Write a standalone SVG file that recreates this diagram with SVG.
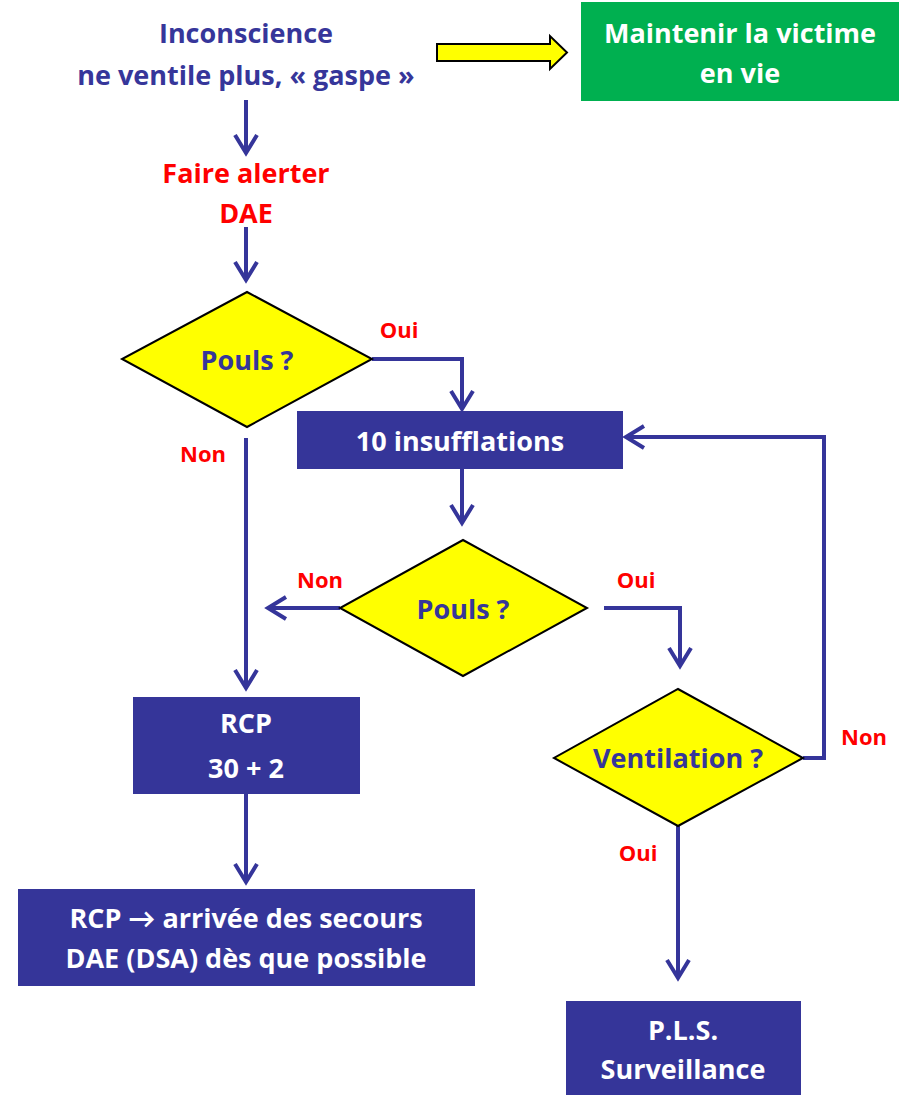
<svg xmlns="http://www.w3.org/2000/svg" width="905" height="1095" viewBox="0 0 905 1095">
  <style>
    text { font-family: "Open Sans", Lato, "Liberation Sans", sans-serif; font-weight: bold; text-anchor: middle; }
    .t-blue { fill: #36369a; font-size: 27px; }
    .t-red { fill: #ff0000; font-size: 27px; }
    .t-white { fill: #ffffff; font-size: 27px; }
    .lbl { fill: #ff0000; font-size: 22px; }
    .box { fill: #353599; }
    .dia { fill: #ffff00; stroke: #000000; stroke-width: 2; }
    .wire { fill: none; stroke: #35359a; stroke-width: 4; stroke-linejoin: miter; }
  </style>
  <defs>
    <marker id="chev" markerUnits="userSpaceOnUse" markerWidth="30" markerHeight="30" viewBox="-15 -15 30 30" refX="0" refY="0" orient="auto" overflow="visible">
      <path d="M-18,-11 L0,0 L-18,11" fill="none" stroke="#35359a" stroke-width="4" stroke-linejoin="miter"/>
    </marker>
  </defs>

  <rect width="905" height="1095" fill="#ffffff"/>

  <!-- connectors -->
  <g id="connectors">
    <path class="wire" d="M246,100 L246,153" marker-end="url(#chev)"/>
    <path class="wire" d="M246,227 L246,280" marker-end="url(#chev)"/>
    <path class="wire" d="M372,359 L462,359 L462,409" marker-end="url(#chev)"/>
    <path class="wire" d="M246,438 L246,688" marker-end="url(#chev)"/>
    <path class="wire" d="M462,469 L462,523" marker-end="url(#chev)"/>
    <path class="wire" d="M340,608 L268,608" marker-end="url(#chev)"/>
    <path class="wire" d="M604,608 L680,608 L680,666" marker-end="url(#chev)"/>
    <path class="wire" d="M803,758 L824,758 L824,437 L626,437" marker-end="url(#chev)"/>
    <path class="wire" d="M246,794 L246,882" marker-end="url(#chev)"/>
    <path class="wire" d="M678,826 L678,978" marker-end="url(#chev)"/>
    <!-- hollow block arrow towards the green box -->
    <path d="M437,44 L550,44 L550,36 L567,52.5 L550,69 L550,61 L437,61 Z" fill="#ffff00" stroke="#000000" stroke-width="2" stroke-linejoin="miter"/>
    <text class="lbl" x="399" y="338">Oui</text>
    <text class="lbl" x="203" y="462">Non</text>
    <text class="lbl" x="320" y="588">Non</text>
    <text class="lbl" x="636" y="588">Oui</text>
    <text class="lbl" x="864" y="745">Non</text>
    <text class="lbl" x="638" y="861">Oui</text>
  </g>

  <g id="start">
    <text class="t-blue" x="246" y="43">Inconscience</text>
    <text class="t-blue" x="246" y="85">ne ventile plus, « gaspe »</text>
  </g>

  <g id="keep-alive">
    <rect x="581" y="2" width="318" height="99" fill="#00b050"/>
    <text class="t-white" x="740" y="43">Maintenir la victime</text>
    <text class="t-white" x="740" y="83">en vie</text>
  </g>

  <g id="alert">
    <text class="t-red" x="246" y="183">Faire alerter</text>
    <text class="t-red" x="246" y="223">DAE</text>
  </g>

  <g id="pulse-1">
    <polygon class="dia" points="247,292 372,359 247,427 122,359"/>
    <text class="t-blue" x="247" y="370">Pouls ?</text>
  </g>

  <g id="insufflations">
    <rect class="box" x="297" y="411" width="326" height="58"/>
    <text class="t-white" x="460" y="451">10 insufflations</text>
  </g>

  <g id="pulse-2">
    <polygon class="dia" points="463,540 587,608 463,676 340,608"/>
    <text class="t-blue" x="463" y="619">Pouls ?</text>
  </g>

  <g id="ventilation">
    <polygon class="dia" points="678,689 803,758 678,826 554,758"/>
    <text class="t-blue" x="678" y="768">Ventilation ?</text>
  </g>

  <g id="rcp">
    <rect class="box" x="133" y="697" width="227" height="97"/>
    <text class="t-white" x="246" y="733">RCP</text>
    <text class="t-white" x="246" y="778">30 + 2</text>
  </g>

  <g id="rcp-until-help">
    <rect class="box" x="18" y="889" width="457" height="97"/>
    <text class="t-white" x="246" y="928">RCP → arrivée des secours</text>
    <text class="t-white" x="246" y="968">DAE (DSA) dès que possible</text>
  </g>

  <g id="pls">
    <rect class="box" x="566" y="1001" width="235" height="94"/>
    <text class="t-white" x="683" y="1040">P.L.S.</text>
    <text class="t-white" x="683" y="1079">Surveillance</text>
  </g>
</svg>
